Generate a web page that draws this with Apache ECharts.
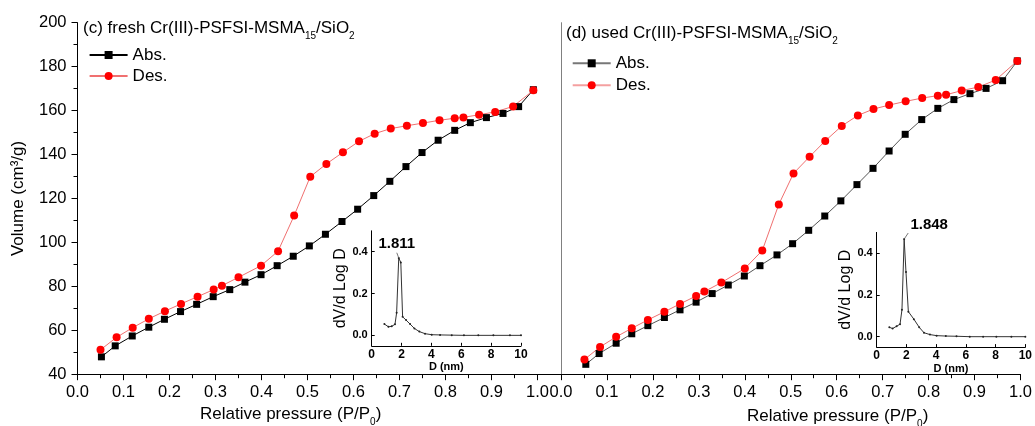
<!DOCTYPE html>
<html><head><meta charset="utf-8">
<script src="https://cdn.jsdelivr.net/npm/echarts@6/dist/echarts.min.js"></script>
<style>html,body{margin:0;padding:0;background:#fff}#c{width:1035px;height:426px}</style>
</head><body><div id="c"></div><script>
const FONT = '"Liberation Sans", Arial, sans-serif';

// (c) fresh sample
const freshAbsP = [0.052,0.082,0.119,0.155,0.189,0.224,0.259,0.295,0.331,0.364,0.399,0.434,0.469,0.504,0.539,0.575,0.609,0.644,0.679,0.714,0.749,0.784,0.820,0.854,0.889,0.925,0.959,0.991];
const freshAbsV = [47.9,52.9,57.4,61.4,65.0,68.5,71.8,75.3,78.5,81.9,85.3,89.4,93.7,98.4,103.7,109.5,115.1,121.3,127.8,134.5,140.9,146.5,151.0,154.5,156.8,158.7,161.8,169.5];
const freshDesP = [0.050,0.085,0.120,0.155,0.190,0.225,0.261,0.296,0.314,0.350,0.399,0.436,0.471,0.506,0.541,0.577,0.612,0.646,0.681,0.716,0.751,0.787,0.820,0.839,0.873,0.908,0.947,0.991];
const freshDesV = [51.1,56.8,61.2,65.2,68.7,72.0,75.3,78.5,80.3,84.1,89.4,96.0,112.2,129.9,135.7,141.0,146.0,149.5,151.8,153.1,154.3,155.6,156.5,156.9,158.1,159.4,161.9,169.2];

// (d) used sample
const usedAbsP = [0.054,0.083,0.120,0.154,0.189,0.225,0.259,0.294,0.329,0.364,0.399,0.433,0.470,0.504,0.539,0.574,0.609,0.644,0.679,0.714,0.749,0.785,0.820,0.855,0.890,0.925,0.961,0.993];
const usedAbsV = [44.5,49.4,54.1,58.4,62.1,65.8,69.3,72.8,76.7,80.6,84.7,89.4,94.3,99.4,105.5,112.0,118.9,126.3,133.7,141.6,149.2,155.9,161.0,165.0,167.7,170.1,173.6,182.6];
const usedDesP = [0.051,0.085,0.120,0.154,0.189,0.225,0.259,0.294,0.312,0.349,0.400,0.438,0.474,0.506,0.541,0.575,0.611,0.646,0.680,0.714,0.750,0.786,0.820,0.838,0.872,0.908,0.946,0.993];
const usedDesV = [46.7,52.4,57.0,60.9,64.7,68.4,72.0,75.6,77.6,81.7,88.1,96.3,117.3,131.4,139.0,146.2,153.0,157.8,160.7,162.5,164.2,165.7,166.8,167.2,169.1,170.7,173.9,182.6];

// insets: pore size distribution
const freshPsdD = [0.85,1.12,1.34,1.56,1.67,1.811,1.95,2.07,2.3,2.57,2.86,3.19,3.57,4.02,4.58,5.36,6.18,7.14,8.15,9.26,10];
const freshPsdV = [0.054,0.041,0.043,0.053,0.108,0.37,0.348,0.089,0.073,0.054,0.033,0.018,0.008,0.003,0.002,0.001,0,0,0,0,0];
const usedPsdD = [0.85,1.07,1.34,1.57,1.70,1.848,1.97,2.13,2.5,2.86,3.18,3.58,4.03,4.65,5.37,6.26,7.16,8.05,9.06,10];
const usedPsdV = [0.045,0.039,0.050,0.060,0.129,0.468,0.31,0.12,0.084,0.045,0.019,0.01,0.005,0.003,0.002,0,0,0,0,0];
const freshPeakLabel = '1.811';
const usedPeakLabel = '1.848';
const freshLeader = [[1.811, 0.37], [1.68, 0.395]];
const usedLeader = [[1.848, 0.468], [2.12, 0.497]];

const insetYTicks = [0, 0.2, 0.4];
const seriesNames = ['Abs.', 'Des.'];

function pairs(xs, ys) { return xs.map((x, i) => [x, ys[i]]); }
function psdData(xs, ys, label, offset) {
  let pk = 0; ys.forEach((v, i) => { if (v > ys[pk]) pk = i; });
  return xs.map((x, i) => i === pk ? {
    value: [x, ys[i]],
    label: { show: true, formatter: label, position: 'top', distance: 6, offset: offset,
             fontSize: 15, fontWeight: 'bold', fontFamily: FONT, color: '#000' }
  } : [x, ys[i]]);
}

const mainX = (gi) => ({
  type: 'value', gridIndex: gi, min: 0, max: 1, interval: 0.1,
  axisLine: { show: true, onZero: false, lineStyle: { color: '#000', width: 1 } },
  axisTick: { show: true, inside: false, length: 6, lineStyle: { color: '#000' } },
  minorTick: { show: true, splitNumber: 2, length: 4, lineStyle: { color: '#000' } },
  axisLabel: { show: true, margin: 10, fontSize: 16.5, fontFamily: FONT, color: '#000',
               showMinLabel: true, showMaxLabel: true, formatter: v => v.toFixed(1) },
  splitLine: { show: false }
});

const insetX = (gi) => ({
  type: 'value', gridIndex: gi, min: 0, max: 10, interval: 2,
  name: 'D (nm)', nameLocation: 'middle', nameGap: 14,
  nameTextStyle: { fontSize: 11, fontWeight: 'bold', fontFamily: FONT, color: '#000' },
  axisLine: { show: true, onZero: false, lineStyle: { color: '#000', width: 1 } },
  axisTick: { show: true, inside: true, length: 3, lineStyle: { color: '#000' } },
  axisLabel: { show: true, margin: 3, fontSize: 12, fontWeight: 'bold', fontFamily: FONT, color: '#000',
               showMinLabel: true, showMaxLabel: true },
  splitLine: { show: false }
});
const insetY = (gi) => ({
  type: 'value', gridIndex: gi, min: -0.05, max: 0.5,
  name: 'dV/d Log D', nameLocation: 'middle', nameGap: 19, nameRotate: 90,
  nameTextStyle: { fontSize: 16, fontFamily: FONT, color: '#000' },
  axisLine: { show: true, onZero: false, lineStyle: { color: '#000', width: 1 } },
  axisTick: { show: true, inside: true, length: 3, customValues: insetYTicks, lineStyle: { color: '#000' } },
  axisLabel: { show: true, margin: 4, fontSize: 11, fontWeight: 'bold', fontFamily: FONT, color: '#000',
               customValues: insetYTicks, formatter: v => v.toFixed(1) },
  splitLine: { show: false }
});

const titleRich = {
  n: { fontSize: 17, fontWeight: 'normal', fontFamily: FONT, color: '#000', lineHeight: 25 },
  s: { fontSize: 10, fontWeight: 'normal', fontFamily: FONT, color: '#000', lineHeight: 12, verticalAlign: 'bottom' }
};

const option = {
  backgroundColor: '#fff',
  animation: false,
  title: [
    { text: '{n|(c) fresh Cr(III)-PSFSI-MSMA}{s|15}{n|/SiO}{s|2}', left: 83, top: 16, padding: 0,
      textStyle: { fontWeight: 'normal', rich: titleRich } },
    { text: '{n|(d) used Cr(III)-PSFSI-MSMA}{s|15}{n|/SiO}{s|2}', left: 566, top: 21, padding: 0,
      textStyle: { fontWeight: 'normal', rich: titleRich } },
    { text: '{n|Relative pressure (P/P}{s|0}{n|)}', left: 200, top: 402, padding: 0,
      textStyle: { fontWeight: 'normal', rich: titleRich } },
    { text: '{n|Relative pressure (P/P}{s|0}{n|)}', left: 747, top: 404, padding: 0,
      textStyle: { fontWeight: 'normal', rich: titleRich } }
  ],
  legend: [
    { orient: 'vertical', left: 88.6, top: 46.5, padding: 0, itemWidth: 38, itemHeight: 10, itemGap: 4,
      data: seriesNames,
      textStyle: { fontSize: 17, lineHeight: 17, fontFamily: FONT, color: '#000' } },
    { orient: 'vertical', left: 571.7, top: 54.8, padding: 0, itemWidth: 38, itemHeight: 10, itemGap: 5,
      data: [{ name: seriesNames[0], lineStyle: { color: '#777' } }, { name: seriesNames[1], lineStyle: { color: '#f4a0a0' } }],
      textStyle: { fontSize: 17, lineHeight: 17, fontFamily: FONT, color: '#000' } }
  ],
  grid: [
    { left: 77.5, top: 22.7, width: 460, height: 351.5 },
    { left: 561, top: 22.7, width: 460, height: 351.5 },
    { left: 371.7, top: 230.8, width: 149.3, height: 115 },
    { left: 876.7, top: 232.4, width: 149, height: 114.7 }
  ],
  xAxis: [ mainX(0), mainX(1), insetX(2), insetX(3) ],
  yAxis: [
    { type: 'value', gridIndex: 0, min: 40, max: 200, interval: 20,
      name: 'Volume (cm³/g)', nameLocation: 'middle', nameGap: 51, nameRotate: 90,
      nameTextStyle: { fontSize: 17, fontFamily: FONT, color: '#000' },
      axisLine: { show: true, onZero: false, lineStyle: { color: '#000', width: 1 } },
      axisTick: { show: true, inside: false, length: 6, lineStyle: { color: '#000' } },
      minorTick: { show: true, splitNumber: 2, length: 4, lineStyle: { color: '#000' } },
      axisLabel: { show: true, margin: 11, fontSize: 16.5, fontFamily: FONT, color: '#000',
                   showMinLabel: true, showMaxLabel: true },
      splitLine: { show: false } },
    { type: 'value', gridIndex: 1, min: 40, max: 200, interval: 20,
      axisLine: { show: true, onZero: false, lineStyle: { color: '#808080', width: 1 } },
      axisTick: { show: false }, axisLabel: { show: false }, splitLine: { show: false } },
    insetY(2), insetY(3)
  ],
  graphic: [
    { type: 'line', shape: { x1: 537.5, y1: 374.5, x2: 561, y2: 374.5 }, style: { stroke: '#000', lineWidth: 1 }, silent: true }
  ],
  series: [
    { name: seriesNames[0], type: 'line', xAxisIndex: 0, yAxisIndex: 0, data: pairs(freshAbsP, freshAbsV),
      symbol: 'rect', symbolSize: 7, itemStyle: { color: '#000' }, lineStyle: { color: '#000', width: 1 } },
    { name: seriesNames[1], type: 'line', xAxisIndex: 0, yAxisIndex: 0, data: pairs(freshDesP, freshDesV),
      symbol: 'circle', symbolSize: 8, itemStyle: { color: '#ff0000' }, lineStyle: { color: '#f07070', width: 1 } },
    { name: seriesNames[0], type: 'line', xAxisIndex: 1, yAxisIndex: 1, data: pairs(usedAbsP, usedAbsV),
      symbol: 'rect', symbolSize: 7, itemStyle: { color: '#000' }, lineStyle: { color: '#555', width: 1 } },
    { name: seriesNames[1], type: 'line', xAxisIndex: 1, yAxisIndex: 1, data: pairs(usedDesP, usedDesV),
      symbol: 'circle', symbolSize: 8, itemStyle: { color: '#ff0000' }, lineStyle: { color: '#f07070', width: 1 } },
    { name: 'psd-fresh', type: 'line', xAxisIndex: 2, yAxisIndex: 2, data: psdData(freshPsdD, freshPsdV, freshPeakLabel, [-2, 0]),
      symbol: 'circle', symbolSize: 2, itemStyle: { color: '#222' }, lineStyle: { color: '#333', width: 1 },
      markLine: { silent: true, symbol: 'none', label: { show: false }, lineStyle: { color: '#555', width: 0.8, type: 'solid' },
                  data: [[{ coord: freshLeader[0] }, { coord: freshLeader[1] }]] } },
    { name: 'psd-used', type: 'line', xAxisIndex: 3, yAxisIndex: 3, data: psdData(usedPsdD, usedPsdV, usedPeakLabel, [25, 0]),
      symbol: 'circle', symbolSize: 2, itemStyle: { color: '#222' }, lineStyle: { color: '#333', width: 1 },
      markLine: { silent: true, symbol: 'none', label: { show: false }, lineStyle: { color: '#555', width: 0.8, type: 'solid' },
                  data: [[{ coord: usedLeader[0] }, { coord: usedLeader[1] }]] } }
  ]
};

const chart = echarts.init(document.getElementById('c'), null, { renderer: 'canvas' });
chart.setOption(option);
</script></body></html>
